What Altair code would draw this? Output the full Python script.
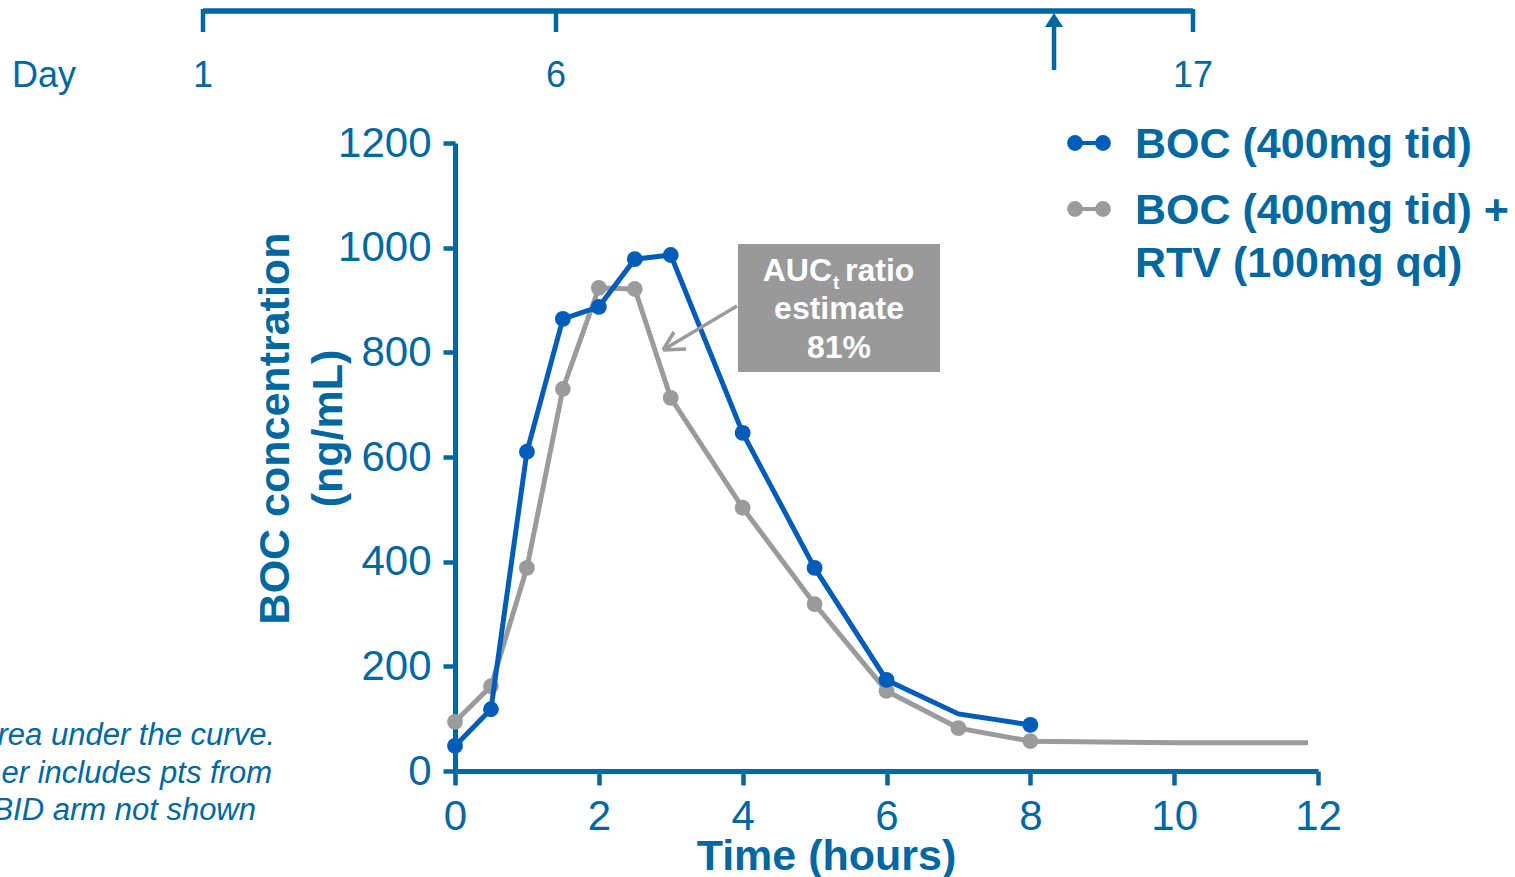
import altair as alt
import pandas as pd

# ---------------- data ----------------
boc_time = [0, 0.5, 1, 1.5, 2, 2.5, 3, 4, 5, 6, 7, 8]
boc_conc = [48, 118, 610, 864, 887, 978, 986, 646, 388, 174, 109, 88]
boc_marker = [True, True, True, True, True, True, True, True, True, True, False, True]

rtv_time = [0, 0.5, 1, 1.5, 2, 2.5, 3, 4, 5, 6, 7, 8, 10, 11.86]
rtv_conc = [94, 162, 388, 730, 923, 921, 713, 503, 319, 153, 82, 57, 54, 54]
rtv_marker = [True, True, True, True, True, True, True, True, True, True, True, True, False, False]

x_ticks = [0, 2, 4, 6, 8, 10, 12]
y_ticks = [0, 200, 400, 600, 800, 1000, 1200]

series_names = ["BOC (400mg tid)", "BOC (400mg tid) +\nRTV (100mg qd)"]

day_ticks = [1, 6, 17]
day_labels = ["1", "6", "17"]
arrow_day = [14.6]

annot_main = "AUC"
annot_sub = "t"
annot_rest = "ratio"
annot_lines = "estimate\n81%"

footnote_lines = ["rea under the curve.", "er includes pts from", "BID arm not shown"]

# ---------------- styles ----------------
FONT = "Liberation Sans"
AXIS = "#0067A0"
BLUE = "#005CB9"
GREY = "#9B9B9B"
BOX = "#999999"

boc = pd.DataFrame({"t": boc_time, "c": boc_conc, "m": boc_marker})
rtv = pd.DataFrame({"t": rtv_time, "c": rtv_conc, "m": rtv_marker})

xs = alt.Scale(domain=[0, 12], nice=False, zero=False)
ys = alt.Scale(domain=[0, 1200], nice=False)

x_axis = alt.Axis(
    values=x_ticks, title="Time (hours)", grid=False, format="d",
    labelFontSize=42, labelColor=AXIS, labelPadding=11, labelFont=FONT, labelFlush=False,
    tickColor=AXIS, tickWidth=4.5, tickSize=14,
    domainColor=AXIS, domainWidth=5,
    titleFont=FONT, titleFontSize=43, titleFontWeight="bold", titleColor=AXIS,
    titleX=371, titleY=98, titleBaseline="alphabetic", titleAlign="center",
)
y_axis = alt.Axis(
    values=y_ticks, title=["BOC concentration", "(ng/mL)"], grid=False, format="d",
    labelFontSize=42, labelColor=AXIS, labelPadding=12, labelFont=FONT, labelFlush=False,
    tickColor=AXIS, tickWidth=4.5, tickSize=12,
    domainColor=AXIS, domainWidth=5,
    titleFont=FONT, titleFontSize=43, titleFontWeight="bold", titleColor=AXIS,
    titleAngle=270, titleX=-180, titleY=285, titleAlign="center",
    titleBaseline="middle", titleLineHeight=53,
)

X = alt.X("t:Q", scale=xs, axis=x_axis)
Y = alt.Y("c:Q", scale=ys, axis=y_axis)

MS = 250
rtv_line = alt.Chart(rtv).mark_line(color=GREY, strokeWidth=5).encode(x=X, y=Y)
rtv_pts = alt.Chart(rtv).transform_filter("datum.m").mark_circle(color=GREY, size=MS, opacity=1).encode(x=X, y=Y)
boc_line = alt.Chart(boc).mark_line(color=BLUE, strokeWidth=5).encode(x=X, y=Y)
boc_pts = alt.Chart(boc).transform_filter("datum.m").mark_circle(color=BLUE, size=MS, opacity=1).encode(x=X, y=Y)

one = pd.DataFrame({"a": [0]})

# ---------------- legend (drawn by hand) ----------------
def dumbbell(color, ypix):
    r = alt.Chart(one).mark_rule(color=color, strokeWidth=4).encode(
        x=alt.value(620), x2=alt.value(648), y=alt.value(ypix))
    p1 = alt.Chart(one).mark_circle(color=color, size=MS, opacity=1).encode(
        x=alt.value(620), y=alt.value(ypix))
    p2 = alt.Chart(one).mark_circle(color=color, size=MS, opacity=1).encode(
        x=alt.value(648), y=alt.value(ypix))
    return [r, p1, p2]

leg_text1 = alt.Chart(pd.DataFrame({"s": [series_names[0]]})).mark_text(
    font=FONT, fontSize=43, fontWeight="bold", color=AXIS, align="left", baseline="alphabetic"
).encode(x=alt.value(680), y=alt.value(15), text="s:N")
leg_text2 = alt.Chart(pd.DataFrame({"s": [series_names[1]]})).mark_text(
    font=FONT, fontSize=43, fontWeight="bold", color=AXIS, align="left", baseline="alphabetic",
    lineBreak="\n", lineHeight=53
).encode(x=alt.value(680), y=alt.value(81), text="s:N")

# ---------------- annotation box ----------------
box = alt.Chart(one).mark_rect(color=BOX).encode(
    x=alt.value(283), x2=alt.value(485), y=alt.value(101), y2=alt.value(229))
txt_style = dict(font=FONT, fontWeight="bold", color="white", baseline="alphabetic")
t_auc = alt.Chart(one).mark_text(fontSize=32, align="right", text=annot_main, **txt_style).encode(
    x=alt.value(377), y=alt.value(138))
t_sub = alt.Chart(one).mark_text(fontSize=19, align="left", text=annot_sub, **txt_style).encode(
    x=alt.value(378), y=alt.value(146))
t_rest = alt.Chart(one).mark_text(fontSize=32, align="left", text=annot_rest, **txt_style).encode(
    x=alt.value(390), y=alt.value(138))
t_lines = alt.Chart(one).mark_text(fontSize=32, align="center", text=annot_lines.split("\n"),
                                   lineHeight=39, **txt_style).encode(
    x=alt.value(384), y=alt.value(176))
arr_shaft = alt.Chart(one).mark_rule(color=GREY, strokeWidth=3.5).encode(
    x=alt.value(282), y=alt.value(163), x2=alt.value(208), y2=alt.value(207))
arr_h1 = alt.Chart(one).mark_rule(color=GREY, strokeWidth=3.5).encode(
    x=alt.value(208), y=alt.value(207), x2=alt.value(231), y2=alt.value(206))
arr_h2 = alt.Chart(one).mark_rule(color=GREY, strokeWidth=3.5).encode(
    x=alt.value(208), y=alt.value(207), x2=alt.value(219), y2=alt.value(189))

# ---------------- footnote ----------------
foot = []
for line, xr, yb in zip(footnote_lines, [-180, -183, -199], [602, 640, 677]):
    foot.append(alt.Chart(one).mark_text(
        font=FONT, fontSize=31, fontStyle="italic", color=AXIS, align="right",
        baseline="alphabetic", text=line).encode(x=alt.value(xr), y=alt.value(yb)))

main = alt.layer(
    rtv_line, rtv_pts, boc_line, boc_pts,
    *dumbbell(BLUE, 0), *dumbbell(GREY, 66), leg_text1, leg_text2,
    box, t_auc, t_sub, t_rest, t_lines, arr_shaft, arr_h1, arr_h2,
    *foot,
)

# ---------------- day timeline (own, piecewise scale) ----------------
days = pd.DataFrame({"day": day_ticks, "label": day_labels})
arrow = pd.DataFrame({"day": arrow_day})
day_scale = alt.Scale(domain=day_ticks, range=[-252, 101, 738])
DX = alt.X("day:Q", scale=day_scale, axis=None)

tl_bar = alt.Chart(days).mark_rule(color=AXIS, strokeWidth=5.5).encode(
    x=alt.X("min(day):Q", scale=day_scale, axis=None), x2="max(day):Q", y=alt.value(-132))
tl_ticks = alt.Chart(days).mark_rule(color=AXIS, strokeWidth=4.5).encode(
    x=DX, y=alt.value(-134), y2=alt.value(-111))
tl_labels = alt.Chart(days).mark_text(font=FONT, fontSize=36, color=AXIS, baseline="alphabetic").encode(
    x=DX, y=alt.value(-56), text="label:N")
tl_arrow = alt.Chart(arrow).mark_rule(color=AXIS, strokeWidth=4.5).encode(
    x=DX, y=alt.value(-73), y2=alt.value(-118))
tl_head = alt.Chart(arrow).mark_point(shape="M0,-1L1.3,1L-1.3,1Z", filled=True, size=196,
                                      color=AXIS, opacity=1).encode(x=DX, y=alt.value(-123))
tl_day = alt.Chart(one).mark_text(font=FONT, fontSize=36, color=AXIS, align="left",
                                  baseline="alphabetic", text="Day").encode(
    x=alt.value(-443), y=alt.value(-56))

timeline = alt.layer(tl_bar, tl_ticks, tl_labels, tl_arrow, tl_head, tl_day)

chart = alt.layer(main, timeline).resolve_scale(x="independent").properties(
    width=863, height=628,
    autosize=alt.AutoSizeParams(type="none"),
    padding={"left": 455, "top": 143, "right": 197, "bottom": 106},
    background="white",
    view=alt.ViewBackground(strokeWidth=0, stroke="transparent"),
).configure(font=FONT).configure_view(strokeWidth=0, stroke="transparent")

chart.save("out.html", embed_options={"renderer": "svg", "actions": False})
